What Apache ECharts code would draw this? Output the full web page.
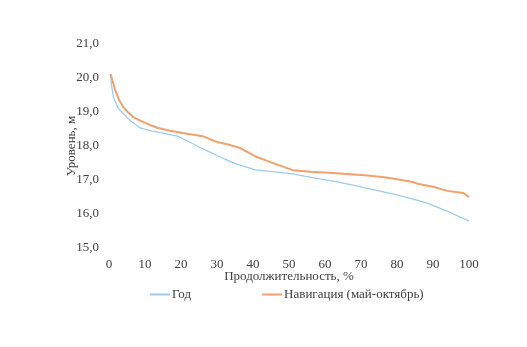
<!DOCTYPE html>
<html><head><meta charset="utf-8">
<script src="https://cdn.jsdelivr.net/npm/echarts@6/dist/echarts.min.js"></script>
<style>html,body{margin:0;padding:0;background:#fff}#c{width:527px;height:347px}</style>
</head><body><div id="c"></div>
<script>
var seriesNames = ['Год', 'Навигация (май-октябрь)'];
var yearX = [0.4, 0.7, 1.2, 2.5, 4, 5.8, 8.6, 12, 15, 19, 22, 25, 28, 30, 33.6, 36, 40.6, 46, 51, 55, 58.6, 63, 67.8, 74, 80, 85, 89, 94, 100];
var yearY = [20.12, 19.8, 19.45, 19.12, 18.95, 18.76, 18.53, 18.44, 18.38, 18.29, 18.14, 17.97, 17.82, 17.72, 17.55, 17.45, 17.3, 17.24, 17.18, 17.1, 17.03, 16.95, 16.85, 16.7, 16.56, 16.42, 16.3, 16.08, 15.79];
var navX = [0.4, 0.9, 1.7, 2.8, 3.9, 5.2, 6.7, 10, 13.6, 17, 20.5, 23, 26, 28, 30, 32.8, 36.4, 40.6, 45, 51, 56, 61, 66, 71, 76, 80, 84.4, 86, 90, 94, 98.4, 100];
var navY = [20.12, 19.95, 19.65, 19.35, 19.15, 19.0, 18.85, 18.68, 18.53, 18.45, 18.38, 18.34, 18.29, 18.2, 18.12, 18.05, 17.94, 17.7, 17.52, 17.29, 17.24, 17.21, 17.18, 17.14, 17.09, 17.02, 16.94, 16.88, 16.8, 16.68, 16.62, 16.5];
var yTicks = [15, 16, 17, 18, 19, 20, 21];
var xTicks = [0, 10, 20, 30, 40, 50, 60, 70, 80, 90, 100];

function pairs(xs, ys){ return xs.map(function(x,i){ return [x, ys[i]]; }); }
var font = "'Liberation Serif', 'Times New Roman', serif";
var chart = echarts.init(document.getElementById('c'), null, {renderer:'canvas'});
chart.setOption({
  animation:false,
  backgroundColor:'#fff',
  textStyle:{fontFamily:font},
  grid:{left:109, right:58, top:44, bottom:99, containLabel:false},
  legend:{
    data:seriesNames, bottom:41, left:145, itemWidth:20, itemHeight:2, itemGap:71,
    icon:'rect',
    textStyle:{fontFamily:font, fontSize:13, color:'#404040', padding:[0,0,0,-3]}
  },
  xAxis:{
    type:'value', min:xTicks[0], max:xTicks[xTicks.length-1], interval:10,
    name:'Продолжительность, %', nameLocation:'middle', nameGap:22, nameMoveOverlap:false,
    nameTextStyle:{fontFamily:font, fontSize:13, color:'#404040'},
    axisLine:{show:false}, axisTick:{show:false}, splitLine:{show:false},
    axisLabel:{fontFamily:font, fontSize:13, color:'#404040', margin:10}
  },
  yAxis:{
    type:'value', min:yTicks[0], max:yTicks[yTicks.length-1], interval:1,
    name:'Уровень, м', nameLocation:'middle', nameGap:31, nameRotate:90, nameMoveOverlap:false,
    nameTextStyle:{fontFamily:font, fontSize:13, color:'#404040'},
    axisLine:{show:false}, axisTick:{show:false}, splitLine:{show:false},
    axisLabel:{fontFamily:font, fontSize:13, color:'#404040', margin:10,
      formatter:function(v){ return v.toFixed(1).replace('.', ','); }}
  },
  series:[
    {name:seriesNames[0], type:'line', data:pairs(yearX, yearY), showSymbol:false,
     lineStyle:{color:'#9ccbf0', width:1.3}, itemStyle:{color:'#9ccbf0'}},
    {name:seriesNames[1], type:'line', data:pairs(navX, navY), showSymbol:false,
     lineStyle:{color:'#f2a06c', width:2}, itemStyle:{color:'#f2a06c'}}
  ]
});
</script></body></html>
